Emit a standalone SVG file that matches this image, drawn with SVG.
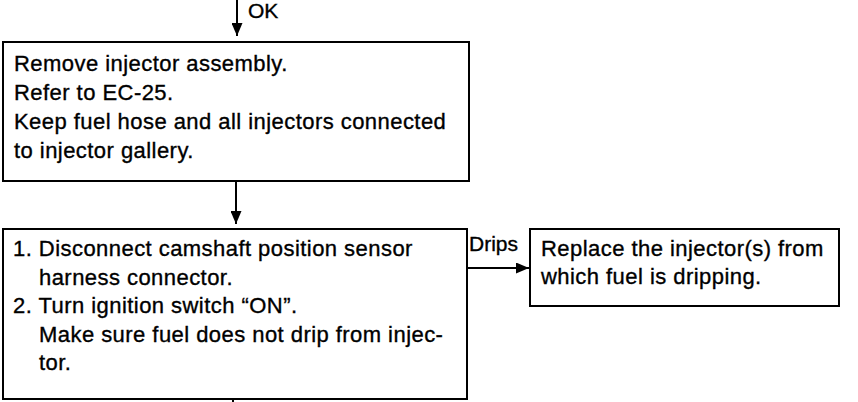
<svg xmlns="http://www.w3.org/2000/svg" width="858" height="402" viewBox="0 0 858 402">
<style>
.box{fill:#fff;stroke:#000;stroke-width:2}
.t{font-family:"Liberation Sans",Arial,sans-serif;font-size:22px;letter-spacing:0.45px;fill:#000;stroke:#000;stroke-width:0.35}
.lbl{font-family:"Liberation Sans",Arial,sans-serif;font-size:21px;fill:#000;stroke:#000;stroke-width:0.35}
.c{stroke:#000;stroke-width:2;fill:none}
</style>
<defs>
<marker id="ah" viewBox="0 0 13 11" refX="13" refY="5.5" markerWidth="13" markerHeight="11" markerUnits="userSpaceOnUse" orient="auto">
<path d="M0,0 L13,5.5 L0,11 Z" fill="#000"/>
</marker>
</defs>
<rect width="858" height="402" fill="#fff"/>
<g id="connectors">
<line class="c" x1="237" y1="0" x2="237" y2="36" marker-end="url(#ah)"/>
<text class="lbl" x="248" y="18">OK</text>
<line class="c" x1="236" y1="181" x2="236" y2="224" marker-end="url(#ah)"/>
<line class="c" x1="467" y1="268" x2="529" y2="268" marker-end="url(#ah)"/>
<text class="lbl" x="469" y="251">Drips</text>
<line class="c" x1="233" y1="399" x2="233" y2="402"/>
</g>
<g id="node1">
<rect class="box" x="3" y="42" width="466" height="139"/>
<text class="t" x="14" y="70.5">Remove injector assembly.</text>
<text class="t" x="14" y="99.5">Refer to EC-25.</text>
<text class="t" x="14" y="128.5">Keep fuel hose and all injectors connected</text>
<text class="t" x="14" y="157.5">to injector gallery.</text>
</g>
<g id="node2">
<rect class="box" x="3" y="229" width="464" height="170"/>
<text class="t" x="13" y="256">1. Disconnect camshaft position sensor</text>
<text class="t" x="39" y="284.5">harness connector.</text>
<text class="t" x="13" y="313">2. Turn ignition switch “ON”.</text>
<text class="t" x="39" y="341.5">Make sure fuel does not drip from injec-</text>
<text class="t" x="39" y="370">tor.</text>
</g>
<g id="node3">
<rect class="box" x="530" y="229" width="309" height="77"/>
<text class="t" x="541" y="256">Replace the injector(s) from</text>
<text class="t" x="541" y="284">which fuel is dripping.</text>
</g>
</svg>
